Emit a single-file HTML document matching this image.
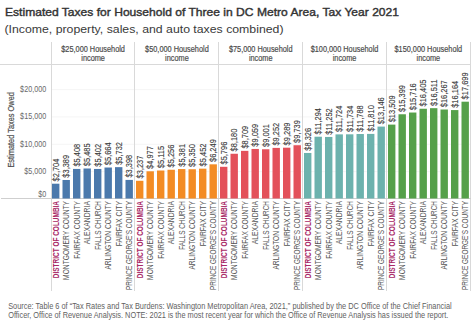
<!DOCTYPE html>
<html><head><meta charset="utf-8"><style>
html,body{margin:0;padding:0;background:#fff;width:474px;height:326px;overflow:hidden;position:relative}
svg text{font-family:"Liberation Sans",sans-serif}
</style></head><body>
<svg width="474" height="326" viewBox="0 0 474 326" style="position:absolute;left:0;top:0">
<text x="5" y="16" font-size="11.2" fill="#333" stroke="#333" stroke-width="0.4" textLength="394" lengthAdjust="spacingAndGlyphs">Estimated Taxes for Household of Three in DC Metro Area, Tax Year 2021</text>
<text x="4.5" y="32.5" font-size="11.7" fill="#3a3a3a" textLength="279" lengthAdjust="spacingAndGlyphs">(Income, property, sales, and auto taxes combined)</text>
<rect x="0" y="64" width="471" height="1" fill="#d9d9d9"/>
<rect x="52" y="171.15" width="418" height="1" fill="#f5f5f5"/>
<rect x="52" y="143.80" width="418" height="1" fill="#f5f5f5"/>
<rect x="52" y="116.45" width="418" height="1" fill="#f5f5f5"/>
<rect x="52" y="89.10" width="418" height="1" fill="#f5f5f5"/>
<rect x="51" y="42" width="1" height="249" fill="#d9d9d9"/>
<rect x="134" y="42" width="1" height="249" fill="#d9d9d9"/>
<rect x="218" y="42" width="1" height="249" fill="#d9d9d9"/>
<rect x="302" y="42" width="1" height="249" fill="#d9d9d9"/>
<rect x="386" y="42" width="1" height="249" fill="#d9d9d9"/>
<rect x="470" y="42" width="1" height="249" fill="#d9d9d9"/>
<rect x="1" y="198" width="470" height="1" fill="#cfcfcf"/>
<text transform="translate(93.11,51.5) scale(0.885,1)" font-size="8.3" fill="#4a4a4a" stroke="#4a4a4a" stroke-width="0.18" text-anchor="middle">$25,000 Household</text>
<text transform="translate(93.11,60.7) scale(0.885,1)" font-size="8.3" fill="#4a4a4a" stroke="#4a4a4a" stroke-width="0.18" text-anchor="middle">income</text>
<text transform="translate(176.92,51.5) scale(0.885,1)" font-size="8.3" fill="#4a4a4a" stroke="#4a4a4a" stroke-width="0.18" text-anchor="middle">$50,000 Household</text>
<text transform="translate(176.92,60.7) scale(0.885,1)" font-size="8.3" fill="#4a4a4a" stroke="#4a4a4a" stroke-width="0.18" text-anchor="middle">income</text>
<text transform="translate(260.73,51.5) scale(0.885,1)" font-size="8.3" fill="#4a4a4a" stroke="#4a4a4a" stroke-width="0.18" text-anchor="middle">$75,000 Household</text>
<text transform="translate(260.73,60.7) scale(0.885,1)" font-size="8.3" fill="#4a4a4a" stroke="#4a4a4a" stroke-width="0.18" text-anchor="middle">income</text>
<text transform="translate(344.54,51.5) scale(0.885,1)" font-size="8.3" fill="#4a4a4a" stroke="#4a4a4a" stroke-width="0.18" text-anchor="middle">$100,000 Household</text>
<text transform="translate(344.54,60.7) scale(0.885,1)" font-size="8.3" fill="#4a4a4a" stroke="#4a4a4a" stroke-width="0.18" text-anchor="middle">income</text>
<text transform="translate(428.34,51.5) scale(0.885,1)" font-size="8.3" fill="#4a4a4a" stroke="#4a4a4a" stroke-width="0.18" text-anchor="middle">$150,000 Household</text>
<text transform="translate(428.34,60.7) scale(0.885,1)" font-size="8.3" fill="#4a4a4a" stroke="#4a4a4a" stroke-width="0.18" text-anchor="middle">income</text>
<text x="52.50" y="196.70" transform="scale(0.88,1)" font-size="8.2" fill="#6a6a6a" text-anchor="end">$0</text>
<text x="52.50" y="174.05" transform="scale(0.88,1)" font-size="8.2" fill="#6a6a6a" text-anchor="end">$5,000</text>
<text x="52.50" y="146.70" transform="scale(0.88,1)" font-size="8.2" fill="#6a6a6a" text-anchor="end">$10,000</text>
<text x="52.50" y="119.35" transform="scale(0.88,1)" font-size="8.2" fill="#6a6a6a" text-anchor="end">$15,000</text>
<text x="52.50" y="92.00" transform="scale(0.88,1)" font-size="8.2" fill="#6a6a6a" text-anchor="end">$20,000</text>
<text transform="translate(14.4,129.85) rotate(-90)" font-size="8.2" fill="#505050" stroke="#505050" stroke-width="0.2" text-anchor="middle" textLength="75.5" lengthAdjust="spacingAndGlyphs">Estimated Taxes Owed</text>
<rect x="52.00" y="183.71" width="7.4" height="14.79" fill="#4b79ac"/>
<text transform="translate(58.70,181.41) rotate(-90) scale(0.89,1)" font-size="8.4" fill="#383838" stroke="#383838" stroke-width="0.1">$2,704</text>
<text transform="translate(58.80,201.0) rotate(-90)" font-size="8.6" font-weight="bold" fill="#a82866" text-anchor="end" textLength="77.2" lengthAdjust="spacingAndGlyphs">DISTRICT OF COLUMBIA</text>
<rect x="62.50" y="179.96" width="7.4" height="18.54" fill="#4b79ac"/>
<text transform="translate(69.20,177.66) rotate(-90) scale(0.89,1)" font-size="8.4" fill="#383838" stroke="#383838" stroke-width="0.1">$3,389</text>
<text transform="translate(69.30,201.0) rotate(-90)" font-size="8.6" fill="#555" text-anchor="end" textLength="78.9" lengthAdjust="spacingAndGlyphs">MONTGOMERY COUNTY</text>
<rect x="73.00" y="168.92" width="7.4" height="29.58" fill="#4b79ac"/>
<text transform="translate(79.70,166.62) rotate(-90) scale(0.89,1)" font-size="8.4" fill="#383838" stroke="#383838" stroke-width="0.1">$5,408</text>
<text transform="translate(79.80,201.0) rotate(-90)" font-size="8.6" fill="#555" text-anchor="end" textLength="57.7" lengthAdjust="spacingAndGlyphs">FAIRFAX COUNTY</text>
<rect x="83.50" y="168.50" width="7.4" height="30.00" fill="#4b79ac"/>
<text transform="translate(90.20,166.20) rotate(-90) scale(0.89,1)" font-size="8.4" fill="#383838" stroke="#383838" stroke-width="0.1">$5,485</text>
<text transform="translate(90.30,201.0) rotate(-90)" font-size="8.6" fill="#555" text-anchor="end" textLength="43.3" lengthAdjust="spacingAndGlyphs">ALEXANDRIA</text>
<rect x="94.00" y="168.95" width="7.4" height="29.55" fill="#4b79ac"/>
<text transform="translate(100.70,166.65) rotate(-90) scale(0.89,1)" font-size="8.4" fill="#383838" stroke="#383838" stroke-width="0.1">$5,402</text>
<text transform="translate(100.80,201.0) rotate(-90)" font-size="8.6" fill="#555" text-anchor="end" textLength="48.8" lengthAdjust="spacingAndGlyphs">FALLS CHURCH</text>
<rect x="104.50" y="167.52" width="7.4" height="30.98" fill="#4b79ac"/>
<text transform="translate(111.20,165.22) rotate(-90) scale(0.89,1)" font-size="8.4" fill="#383838" stroke="#383838" stroke-width="0.1">$5,664</text>
<text transform="translate(111.30,201.0) rotate(-90)" font-size="8.6" fill="#555" text-anchor="end" textLength="68.6" lengthAdjust="spacingAndGlyphs">ARLINGTON COUNTY</text>
<rect x="115.00" y="167.15" width="7.4" height="31.35" fill="#4b79ac"/>
<text transform="translate(121.70,164.85) rotate(-90) scale(0.89,1)" font-size="8.4" fill="#383838" stroke="#383838" stroke-width="0.1">$5,732</text>
<text transform="translate(121.80,201.0) rotate(-90)" font-size="8.6" fill="#555" text-anchor="end" textLength="45.3" lengthAdjust="spacingAndGlyphs">FAIRFAX CITY</text>
<rect x="125.50" y="179.91" width="7.4" height="18.59" fill="#4b79ac"/>
<text transform="translate(132.20,177.61) rotate(-90) scale(0.89,1)" font-size="8.4" fill="#383838" stroke="#383838" stroke-width="0.1">$3,398</text>
<text transform="translate(132.30,201.0) rotate(-90)" font-size="8.6" fill="#555" text-anchor="end" textLength="89.0" lengthAdjust="spacingAndGlyphs">PRINCE GEORGE’S COUNTY</text>
<rect x="136.00" y="180.79" width="7.4" height="17.71" fill="#f38c25"/>
<text transform="translate(142.70,178.49) rotate(-90) scale(0.89,1)" font-size="8.4" fill="#383838" stroke="#383838" stroke-width="0.1">$3,237</text>
<text transform="translate(142.80,201.0) rotate(-90)" font-size="8.6" font-weight="bold" fill="#a82866" text-anchor="end" textLength="77.2" lengthAdjust="spacingAndGlyphs">DISTRICT OF COLUMBIA</text>
<rect x="146.50" y="171.28" width="7.4" height="27.22" fill="#f38c25"/>
<text transform="translate(153.20,168.98) rotate(-90) scale(0.89,1)" font-size="8.4" fill="#383838" stroke="#383838" stroke-width="0.1">$4,977</text>
<text transform="translate(153.30,201.0) rotate(-90)" font-size="8.6" fill="#555" text-anchor="end" textLength="78.9" lengthAdjust="spacingAndGlyphs">MONTGOMERY COUNTY</text>
<rect x="157.00" y="170.52" width="7.4" height="27.98" fill="#f38c25"/>
<text transform="translate(163.70,168.22) rotate(-90) scale(0.89,1)" font-size="8.4" fill="#383838" stroke="#383838" stroke-width="0.1">$5,115</text>
<text transform="translate(163.80,201.0) rotate(-90)" font-size="8.6" fill="#555" text-anchor="end" textLength="57.7" lengthAdjust="spacingAndGlyphs">FAIRFAX COUNTY</text>
<rect x="167.50" y="169.75" width="7.4" height="28.75" fill="#f38c25"/>
<text transform="translate(174.20,167.45) rotate(-90) scale(0.89,1)" font-size="8.4" fill="#383838" stroke="#383838" stroke-width="0.1">$5,256</text>
<text transform="translate(174.30,201.0) rotate(-90)" font-size="8.6" fill="#555" text-anchor="end" textLength="43.3" lengthAdjust="spacingAndGlyphs">ALEXANDRIA</text>
<rect x="178.00" y="169.07" width="7.4" height="29.43" fill="#f38c25"/>
<text transform="translate(184.70,166.77) rotate(-90) scale(0.89,1)" font-size="8.4" fill="#383838" stroke="#383838" stroke-width="0.1">$5,381</text>
<text transform="translate(184.80,201.0) rotate(-90)" font-size="8.6" fill="#555" text-anchor="end" textLength="48.8" lengthAdjust="spacingAndGlyphs">FALLS CHURCH</text>
<rect x="188.50" y="169.24" width="7.4" height="29.26" fill="#f38c25"/>
<text transform="translate(195.20,166.94) rotate(-90) scale(0.89,1)" font-size="8.4" fill="#383838" stroke="#383838" stroke-width="0.1">$5,350</text>
<text transform="translate(195.30,201.0) rotate(-90)" font-size="8.6" fill="#555" text-anchor="end" textLength="68.6" lengthAdjust="spacingAndGlyphs">ARLINGTON COUNTY</text>
<rect x="199.00" y="168.68" width="7.4" height="29.82" fill="#f38c25"/>
<text transform="translate(205.70,166.38) rotate(-90) scale(0.89,1)" font-size="8.4" fill="#383838" stroke="#383838" stroke-width="0.1">$5,452</text>
<text transform="translate(205.80,201.0) rotate(-90)" font-size="8.6" fill="#555" text-anchor="end" textLength="45.3" lengthAdjust="spacingAndGlyphs">FAIRFAX CITY</text>
<rect x="209.50" y="164.32" width="7.4" height="34.18" fill="#f38c25"/>
<text transform="translate(216.20,162.02) rotate(-90) scale(0.89,1)" font-size="8.4" fill="#383838" stroke="#383838" stroke-width="0.1">$6,249</text>
<text transform="translate(216.30,201.0) rotate(-90)" font-size="8.6" fill="#555" text-anchor="end" textLength="89.0" lengthAdjust="spacingAndGlyphs">PRINCE GEORGE’S COUNTY</text>
<rect x="220.00" y="166.80" width="7.4" height="31.70" fill="#e3515a"/>
<text transform="translate(226.70,164.50) rotate(-90) scale(0.89,1)" font-size="8.4" fill="#383838" stroke="#383838" stroke-width="0.1">$5,796</text>
<text transform="translate(226.80,201.0) rotate(-90)" font-size="8.6" font-weight="bold" fill="#a82866" text-anchor="end" textLength="77.2" lengthAdjust="spacingAndGlyphs">DISTRICT OF COLUMBIA</text>
<rect x="230.50" y="153.76" width="7.4" height="44.74" fill="#e3515a"/>
<text transform="translate(237.20,151.46) rotate(-90) scale(0.89,1)" font-size="8.4" fill="#383838" stroke="#383838" stroke-width="0.1">$8,180</text>
<text transform="translate(237.30,201.0) rotate(-90)" font-size="8.6" fill="#555" text-anchor="end" textLength="78.9" lengthAdjust="spacingAndGlyphs">MONTGOMERY COUNTY</text>
<rect x="241.00" y="150.86" width="7.4" height="47.64" fill="#e3515a"/>
<text transform="translate(247.70,148.56) rotate(-90) scale(0.89,1)" font-size="8.4" fill="#383838" stroke="#383838" stroke-width="0.1">$8,709</text>
<text transform="translate(247.80,201.0) rotate(-90)" font-size="8.6" fill="#555" text-anchor="end" textLength="57.7" lengthAdjust="spacingAndGlyphs">FAIRFAX COUNTY</text>
<rect x="251.50" y="148.95" width="7.4" height="49.55" fill="#e3515a"/>
<text transform="translate(258.20,146.65) rotate(-90) scale(0.89,1)" font-size="8.4" fill="#383838" stroke="#383838" stroke-width="0.1">$9,059</text>
<text transform="translate(258.30,201.0) rotate(-90)" font-size="8.6" fill="#555" text-anchor="end" textLength="43.3" lengthAdjust="spacingAndGlyphs">ALEXANDRIA</text>
<rect x="262.00" y="149.26" width="7.4" height="49.24" fill="#e3515a"/>
<text transform="translate(268.70,146.96) rotate(-90) scale(0.89,1)" font-size="8.4" fill="#383838" stroke="#383838" stroke-width="0.1">$9,001</text>
<text transform="translate(268.80,201.0) rotate(-90)" font-size="8.6" fill="#555" text-anchor="end" textLength="48.8" lengthAdjust="spacingAndGlyphs">FALLS CHURCH</text>
<rect x="272.50" y="147.89" width="7.4" height="50.61" fill="#e3515a"/>
<text transform="translate(279.20,145.59) rotate(-90) scale(0.89,1)" font-size="8.4" fill="#383838" stroke="#383838" stroke-width="0.1">$9,252</text>
<text transform="translate(279.30,201.0) rotate(-90)" font-size="8.6" fill="#555" text-anchor="end" textLength="68.6" lengthAdjust="spacingAndGlyphs">ARLINGTON COUNTY</text>
<rect x="283.00" y="147.69" width="7.4" height="50.81" fill="#e3515a"/>
<text transform="translate(289.70,145.39) rotate(-90) scale(0.89,1)" font-size="8.4" fill="#383838" stroke="#383838" stroke-width="0.1">$9,289</text>
<text transform="translate(289.80,201.0) rotate(-90)" font-size="8.6" fill="#555" text-anchor="end" textLength="45.3" lengthAdjust="spacingAndGlyphs">FAIRFAX CITY</text>
<rect x="293.50" y="145.23" width="7.4" height="53.27" fill="#e3515a"/>
<text transform="translate(300.20,142.93) rotate(-90) scale(0.89,1)" font-size="8.4" fill="#383838" stroke="#383838" stroke-width="0.1">$9,739</text>
<text transform="translate(300.30,201.0) rotate(-90)" font-size="8.6" fill="#555" text-anchor="end" textLength="89.0" lengthAdjust="spacingAndGlyphs">PRINCE GEORGE’S COUNTY</text>
<rect x="304.00" y="152.96" width="7.4" height="45.54" fill="#6cb2ad"/>
<text transform="translate(310.70,150.66) rotate(-90) scale(0.89,1)" font-size="8.4" fill="#383838" stroke="#383838" stroke-width="0.1">$8,326</text>
<text transform="translate(310.80,201.0) rotate(-90)" font-size="8.6" font-weight="bold" fill="#a82866" text-anchor="end" textLength="77.2" lengthAdjust="spacingAndGlyphs">DISTRICT OF COLUMBIA</text>
<rect x="314.50" y="136.72" width="7.4" height="61.78" fill="#6cb2ad"/>
<text transform="translate(321.20,134.42) rotate(-90) scale(0.89,1)" font-size="8.4" fill="#383838" stroke="#383838" stroke-width="0.1">$11,294</text>
<text transform="translate(321.30,201.0) rotate(-90)" font-size="8.6" fill="#555" text-anchor="end" textLength="78.9" lengthAdjust="spacingAndGlyphs">MONTGOMERY COUNTY</text>
<rect x="325.00" y="136.95" width="7.4" height="61.55" fill="#6cb2ad"/>
<text transform="translate(331.70,134.65) rotate(-90) scale(0.89,1)" font-size="8.4" fill="#383838" stroke="#383838" stroke-width="0.1">$11,252</text>
<text transform="translate(331.80,201.0) rotate(-90)" font-size="8.6" fill="#555" text-anchor="end" textLength="57.7" lengthAdjust="spacingAndGlyphs">FAIRFAX COUNTY</text>
<rect x="335.50" y="134.37" width="7.4" height="64.13" fill="#6cb2ad"/>
<text transform="translate(342.20,132.07) rotate(-90) scale(0.89,1)" font-size="8.4" fill="#383838" stroke="#383838" stroke-width="0.1">$11,724</text>
<text transform="translate(342.30,201.0) rotate(-90)" font-size="8.6" fill="#555" text-anchor="end" textLength="43.3" lengthAdjust="spacingAndGlyphs">ALEXANDRIA</text>
<rect x="346.00" y="134.32" width="7.4" height="64.18" fill="#6cb2ad"/>
<text transform="translate(352.70,132.02) rotate(-90) scale(0.89,1)" font-size="8.4" fill="#383838" stroke="#383838" stroke-width="0.1">$11,734</text>
<text transform="translate(352.80,201.0) rotate(-90)" font-size="8.6" fill="#555" text-anchor="end" textLength="48.8" lengthAdjust="spacingAndGlyphs">FALLS CHURCH</text>
<rect x="356.50" y="134.02" width="7.4" height="64.48" fill="#6cb2ad"/>
<text transform="translate(363.20,131.72) rotate(-90) scale(0.89,1)" font-size="8.4" fill="#383838" stroke="#383838" stroke-width="0.1">$11,788</text>
<text transform="translate(363.30,201.0) rotate(-90)" font-size="8.6" fill="#555" text-anchor="end" textLength="68.6" lengthAdjust="spacingAndGlyphs">ARLINGTON COUNTY</text>
<rect x="367.00" y="133.90" width="7.4" height="64.60" fill="#6cb2ad"/>
<text transform="translate(373.70,131.60) rotate(-90) scale(0.89,1)" font-size="8.4" fill="#383838" stroke="#383838" stroke-width="0.1">$11,810</text>
<text transform="translate(373.80,201.0) rotate(-90)" font-size="8.6" fill="#555" text-anchor="end" textLength="45.3" lengthAdjust="spacingAndGlyphs">FAIRFAX CITY</text>
<rect x="377.50" y="126.59" width="7.4" height="71.91" fill="#6cb2ad"/>
<text transform="translate(384.20,124.29) rotate(-90) scale(0.89,1)" font-size="8.4" fill="#383838" stroke="#383838" stroke-width="0.1">$13,146</text>
<text transform="translate(384.30,201.0) rotate(-90)" font-size="8.6" fill="#555" text-anchor="end" textLength="89.0" lengthAdjust="spacingAndGlyphs">PRINCE GEORGE’S COUNTY</text>
<rect x="388.00" y="124.61" width="7.4" height="73.89" fill="#55a04a"/>
<text transform="translate(394.70,122.31) rotate(-90) scale(0.89,1)" font-size="8.4" fill="#383838" stroke="#383838" stroke-width="0.1">$13,509</text>
<text transform="translate(394.80,201.0) rotate(-90)" font-size="8.6" font-weight="bold" fill="#a82866" text-anchor="end" textLength="77.2" lengthAdjust="spacingAndGlyphs">DISTRICT OF COLUMBIA</text>
<rect x="398.50" y="114.27" width="7.4" height="84.23" fill="#55a04a"/>
<text transform="translate(405.20,111.97) rotate(-90) scale(0.89,1)" font-size="8.4" fill="#383838" stroke="#383838" stroke-width="0.1">$15,399</text>
<text transform="translate(405.30,201.0) rotate(-90)" font-size="8.6" fill="#555" text-anchor="end" textLength="78.9" lengthAdjust="spacingAndGlyphs">MONTGOMERY COUNTY</text>
<rect x="409.00" y="112.53" width="7.4" height="85.97" fill="#55a04a"/>
<text transform="translate(415.70,110.23) rotate(-90) scale(0.89,1)" font-size="8.4" fill="#383838" stroke="#383838" stroke-width="0.1">$15,716</text>
<text transform="translate(415.80,201.0) rotate(-90)" font-size="8.6" fill="#555" text-anchor="end" textLength="57.7" lengthAdjust="spacingAndGlyphs">FAIRFAX COUNTY</text>
<rect x="419.50" y="108.76" width="7.4" height="89.74" fill="#55a04a"/>
<text transform="translate(426.20,106.46) rotate(-90) scale(0.89,1)" font-size="8.4" fill="#383838" stroke="#383838" stroke-width="0.1">$16,405</text>
<text transform="translate(426.30,201.0) rotate(-90)" font-size="8.6" fill="#555" text-anchor="end" textLength="43.3" lengthAdjust="spacingAndGlyphs">ALEXANDRIA</text>
<rect x="430.00" y="108.18" width="7.4" height="90.32" fill="#55a04a"/>
<text transform="translate(436.70,105.88) rotate(-90) scale(0.89,1)" font-size="8.4" fill="#383838" stroke="#383838" stroke-width="0.1">$16,511</text>
<text transform="translate(436.80,201.0) rotate(-90)" font-size="8.6" fill="#555" text-anchor="end" textLength="48.8" lengthAdjust="spacingAndGlyphs">FALLS CHURCH</text>
<rect x="440.50" y="109.52" width="7.4" height="88.98" fill="#55a04a"/>
<text transform="translate(447.20,107.22) rotate(-90) scale(0.89,1)" font-size="8.4" fill="#383838" stroke="#383838" stroke-width="0.1">$16,267</text>
<text transform="translate(447.30,201.0) rotate(-90)" font-size="8.6" fill="#555" text-anchor="end" textLength="68.6" lengthAdjust="spacingAndGlyphs">ARLINGTON COUNTY</text>
<rect x="451.00" y="110.08" width="7.4" height="88.42" fill="#55a04a"/>
<text transform="translate(457.70,107.78) rotate(-90) scale(0.89,1)" font-size="8.4" fill="#383838" stroke="#383838" stroke-width="0.1">$16,164</text>
<text transform="translate(457.80,201.0) rotate(-90)" font-size="8.6" fill="#555" text-anchor="end" textLength="45.3" lengthAdjust="spacingAndGlyphs">FAIRFAX CITY</text>
<rect x="461.50" y="101.69" width="7.4" height="96.81" fill="#55a04a"/>
<text transform="translate(468.20,99.39) rotate(-90) scale(0.89,1)" font-size="8.4" fill="#383838" stroke="#383838" stroke-width="0.1">$17,699</text>
<text transform="translate(468.30,201.0) rotate(-90)" font-size="8.6" fill="#555" text-anchor="end" textLength="89.0" lengthAdjust="spacingAndGlyphs">PRINCE GEORGE’S COUNTY</text>
<text x="8.2" y="308.7" font-size="8.2" fill="#616161" textLength="443.5" lengthAdjust="spacingAndGlyphs">Source: Table 6 of “Tax Rates and Tax Burdens: Washington Metropolitan Area, 2021,” published by the DC Office of the Chief Financial</text>
<text x="8.2" y="317.6" font-size="8.2" fill="#616161" textLength="440.2" lengthAdjust="spacingAndGlyphs">Officer, Office of Revenue Analysis. NOTE: 2021 is the most recent year for which the Office of Revenue Analysis has issued the report.</text>
</svg>
</body></html>
